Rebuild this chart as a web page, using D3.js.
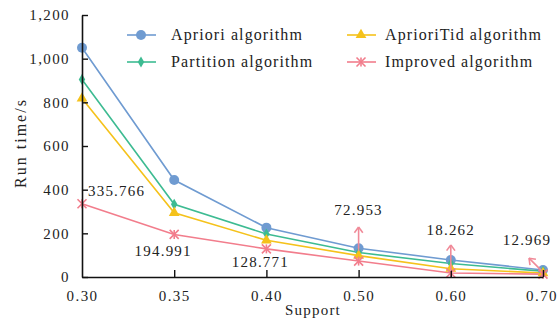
<!DOCTYPE html>
<html>
<head>
<meta charset="utf-8">
<script src="https://cdn.jsdelivr.net/npm/d3@7"></script>
<style>
  html, body { margin: 0; padding: 0; background: #fff; }
  svg text { font-family: 'Liberation Serif', 'Times New Roman', serif; fill: #222; }
</style>
</head>
<body>
<svg id="chart" width="558" height="331"></svg>
<script>
// Support thresholds and run times (s) for each mining algorithm
const supports = ["0.30", "0.35", "0.40", "0.50", "0.60", "0.70"];
const apriori    = [1050, 444, 226, 132, 78, 32];
const aprioriTid = [818, 294, 168, 98, 38, 18];
const partition  = [905, 333, 197, 112, 62, 26];
const improved   = [335.766, 194.991, 128.771, 72.953, 18.262, 12.969];
const yTicks = [0, 200, 400, 600, 800, 1000, 1200];

const seriesNames = ["Apriori algorithm", "AprioriTid algorithm", "Partition algorithm", "Improved algorithm"];
const seriesColors = ["#6f9bd1", "#f5c21b", "#3dbb92", "#f27d8c"];
const seriesMarkers = ["circle", "triangle", "diamond", "asterisk"];
const seriesValues = [apriori, aprioriTid, partition, improved];

const FONT = "'Liberation Serif', 'Times New Roman', serif";
const svg = d3.select("#chart");
const margin = { left: 82, right: 15, top: 15, bottom: 54 };
const W = 558, H = 331;

const x = d3.scalePoint().domain(supports).range([margin.left, W - margin.right]);
const y = d3.scaleLinear().domain([0, 1200]).range([H - margin.bottom, margin.top]);

// draw order: back to front
const order = [0, 2, 1, 3];

function drawMarker(g, kind, cx, cy, color) {
  if (kind === "circle") {
    g.append("circle").attr("cx", cx).attr("cy", cy).attr("r", 5).attr("fill", color);
  } else if (kind === "triangle") {
    g.append("path").attr("d", d3.symbol(d3.symbolTriangle, 50)())
      .attr("transform", `translate(${cx},${cy})`).attr("fill", color);
  } else if (kind === "diamond") {
    g.append("path").attr("d", d3.symbol(d3.symbolDiamond, 36)())
      .attr("transform", `translate(${cx},${cy})`).attr("fill", color);
  } else {
    const s = 4.5;
    const p = g.append("g").attr("transform", `translate(${cx},${cy})`)
      .attr("stroke", color).attr("stroke-width", 1.6);
    p.append("line").attr("x1", -s).attr("y1", -s).attr("x2", s).attr("y2", s);
    p.append("line").attr("x1", -s).attr("y1", s).attr("x2", s).attr("y2", -s);
    p.append("line").attr("x1", 0).attr("y1", -s).attr("x2", 0).attr("y2", s);
  }
}

const line = d3.line().x((d, i) => x(supports[i])).y(d => y(d));
const plot = svg.append("g");
order.forEach(k => {
  plot.append("path").datum(seriesValues[k]).attr("d", line)
    .attr("fill", "none").attr("stroke", seriesColors[k]).attr("stroke-width", 1.6);
});
order.forEach(k => {
  seriesValues[k].forEach((v, i) => drawMarker(plot, seriesMarkers[k], x(supports[i]), y(v), seriesColors[k]));
});

// axes with inward ticks
const yAxis = svg.append("g").attr("transform", `translate(${margin.left},0)`)
  .call(d3.axisLeft(y).tickValues(yTicks).tickFormat(d3.format(",")).tickSizeInner(-6).tickSizeOuter(0).tickPadding(12));
const xAxis = svg.append("g").attr("transform", `translate(0,${H - margin.bottom})`)
  .call(d3.axisBottom(x).tickSizeInner(-7).tickSizeOuter(0).tickPadding(13));
[yAxis, xAxis].forEach(a => {
  a.attr("font-family", FONT).attr("font-size", 15);
  a.select(".domain").attr("stroke", "#111").attr("stroke-width", 1.6);
  a.selectAll(".tick line").attr("stroke", "#111").attr("stroke-width", 1.4);
  a.selectAll(".tick text").attr("fill", "#222").style("letter-spacing", "1.4px");
});
xAxis.selectAll(".tick").filter(d => d === supports[0]).select("line").remove();
// keep the last category label inside the frame
xAxis.selectAll(".tick").filter(d => d === supports[supports.length - 1]).select("text").attr("dx", -1.5);

// axis titles
svg.append("text").attr("x", 313).attr("y", 315).attr("text-anchor", "middle")
  .style("font-size", "15px").style("letter-spacing", "1.2px").text("Support");
svg.append("text").attr("transform", "translate(26,143) rotate(-90)").attr("text-anchor", "middle")
  .style("font-size", "16px").style("letter-spacing", "2px").text("Run time/s");

// value labels for the improved algorithm
const lbl = svg.append("g").style("font-size", "15px").style("letter-spacing", "1.2px");
lbl.append("text").attr("x", x(supports[0]) + 6).attr("y", y(improved[0]) - 8).text(improved[0].toFixed(3));
lbl.append("text").attr("x", x(supports[1]) - 11).attr("y", y(improved[1]) + 22).attr("text-anchor", "middle").text(improved[1].toFixed(3));
lbl.append("text").attr("x", x(supports[2]) - 6).attr("y", y(improved[2]) + 18).attr("text-anchor", "middle").text(improved[2].toFixed(3));
lbl.append("text").attr("x", x(supports[3])).attr("y", y(improved[3]) - 46).attr("text-anchor", "middle").text(improved[3].toFixed(3));
lbl.append("text").attr("x", x(supports[4])).attr("y", y(improved[4]) - 38).attr("text-anchor", "middle").text(improved[4].toFixed(3));
lbl.append("text").attr("x", x(supports[5]) - 16).attr("y", y(improved[5]) - 29).attr("text-anchor", "middle").text(improved[5].toFixed(3));

// pointer arrows from the small values to their labels
function arrow(x1, y1, x2, y2) {
  const c = "#f08a98";
  svg.append("line").attr("x1", x1).attr("y1", y1).attr("x2", x2).attr("y2", y2)
    .attr("stroke", c).attr("stroke-width", 1.6);
  const a = Math.atan2(y2 - y1, x2 - x1), L = 7;
  [a + 2.5, a - 2.5].forEach(t => {
    svg.append("line").attr("x1", x2).attr("y1", y2)
      .attr("x2", x2 + L * Math.cos(t)).attr("y2", y2 + L * Math.sin(t))
      .attr("stroke", c).attr("stroke-width", 1.6);
  });
}
arrow(x(supports[3]), y(improved[3]) - 10, x(supports[3]), y(improved[3]) - 34);
arrow(x(supports[4]), y(improved[4]) - 2, x(supports[4]), y(improved[4]) - 28);
arrow(x(supports[5]) - 2, y(improved[5]) - 4, x(supports[5]) - 14, y(improved[5]) - 16);

// legend: two columns, two rows
const legendPos = [[127, 35], [347, 35], [127, 62], [347, 62]];
const legendTextX = [171, 385, 171, 385];
const leg = svg.append("g");
seriesNames.forEach((name, k) => {
  const pos = legendPos[k];
  leg.append("line").attr("x1", pos[0]).attr("y1", pos[1]).attr("x2", pos[0] + 29).attr("y2", pos[1])
    .attr("stroke", seriesColors[k]).attr("stroke-width", 1.6);
  drawMarker(leg, seriesMarkers[k], pos[0] + 14, pos[1], seriesColors[k]);
  leg.append("text").attr("x", legendTextX[k]).attr("y", pos[1] + 5).style("font-size", "16px")
    .style("letter-spacing", "1.1px").text(name);
});
</script>
</body>
</html>
